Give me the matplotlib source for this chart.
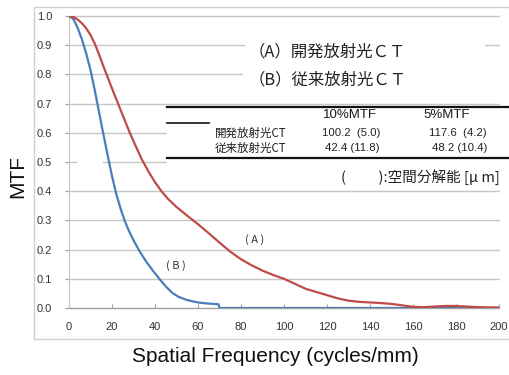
import matplotlib
matplotlib.use("Agg")
import matplotlib.pyplot as plt
from matplotlib.patches import Rectangle
from matplotlib.lines import Line2D

# ---- data ----
freq_a = [0, 2, 4, 6, 8, 10, 12, 14, 16, 18, 20, 22, 25, 28, 31, 34, 37, 40, 43, 46, 50,
          55, 60, 65, 70, 75, 80, 85, 90, 95, 100, 105, 110, 115, 120, 125, 130, 135,
          140, 145, 150, 155, 160, 165, 170, 175, 180, 185, 190, 195, 200]
mtf_a = [1.0, 0.997, 0.988, 0.975, 0.958, 0.935, 0.905, 0.868, 0.828, 0.79, 0.752,
         0.715, 0.66, 0.605, 0.555, 0.507, 0.467, 0.431, 0.4, 0.374, 0.346, 0.316,
         0.287, 0.256, 0.224, 0.193, 0.167, 0.146, 0.128, 0.113, 0.1, 0.083, 0.066,
         0.055, 0.044, 0.033, 0.025, 0.021, 0.019, 0.017, 0.014, 0.009, 0.004, 0.003,
         0.005, 0.007, 0.007, 0.005, 0.003, 0.002, 0.002]
freq_b = [0, 2, 4, 6, 8, 10, 12, 14, 16, 18, 20, 22, 24, 26, 28, 30, 33, 36, 39, 42,
          45, 48, 51, 55, 60, 65, 69.5, 70, 100, 150, 200]
mtf_b = [1.0, 0.99, 0.96, 0.92, 0.872, 0.815, 0.745, 0.67, 0.595, 0.522, 0.452, 0.39,
         0.34, 0.297, 0.262, 0.232, 0.192, 0.158, 0.128, 0.1, 0.074, 0.052, 0.038,
         0.027, 0.019, 0.015, 0.013, 0.0, 0.0, 0.0, 0.0]

x_ticks = [0, 20, 40, 60, 80, 100, 120, 140, 160, 180, 200]
y_ticks = [0.0, 0.1, 0.2, 0.3, 0.4, 0.5, 0.6, 0.7, 0.8, 0.9, 1.0]

legend_a = "（A）開発放射光ＣＴ"
legend_b = "（B）従来放射光ＣＴ"
table_cols = ["10%MTF", "5%MTF"]
table_rows = ["開発放射光CT", "従来放射光CT"]
table_10 = ["100.2  (5.0)", "42.4 (11.8)"]
table_5 = ["117.6  (4.2)", "48.2 (10.4)"]
note = "(　　 ):空間分解能 [μ m]"

W, H = 510, 375
fig = plt.figure(figsize=(W / 100, H / 100), dpi=100)
CJK = ["Noto Sans CJK JP", "DejaVu Sans"]
SANS = ["Liberation Sans", "Noto Sans CJK JP"]


def fx(px):
    return px / W


def fy(py):
    return 1 - py / H


# outer chart frame
fig.patches.append(Rectangle((fx(34), fy(339)), fx(600) - fx(34), fy(7) - fy(339),
                             transform=fig.transFigure, fill=False,
                             edgecolor="#d0d0d0", lw=1.0, zorder=0))

ax = fig.add_axes([fx(69), fy(308), fx(499) - fx(69), fy(16) - fy(308)])
ax.set_xlim(0, 200)
ax.set_ylim(0, 1.0)
ax.set_xticks(x_ticks)
ax.set_yticks(y_ticks)
ax.set_xticklabels([str(v) for v in x_ticks], family=SANS, fontsize=8, color="#333333")
ax.set_yticklabels([f"{v:.1f}" for v in y_ticks], family=SANS, fontsize=8, color="#333333")
ax.tick_params(axis="x", direction="in", length=3, pad=10, color="#a0a0a0")
ax.tick_params(axis="y", direction="out", length=3, pad=9, color="#a0a0a0")
for s in ["top", "right"]:
    ax.spines[s].set_visible(False)
ax.spines["left"].set_color("#c8c8c8")
ax.spines["bottom"].set_color("#a0a0a0")
ax.grid(axis="y", color="#c6c6c6", lw=1.0)
for gl in ax.get_ygridlines():
    gl.set_clip_on(False)
ax.set_axisbelow(True)

ax.set_zorder(1)
ax.patch.set_visible(False)

ax.plot(freq_b, mtf_b, color="#4a7ebb", lw=1.6, zorder=3)
ax.plot(freq_a, mtf_a, color="#be4b48", lw=1.6, zorder=4)

ax.text(86.5, 0.236, "( A )", family=CJK, fontsize=8, color="#333333",
        ha="center", va="center")
ax.text(49.8, 0.144, "( B )", family=CJK, fontsize=8, color="#333333",
        ha="center", va="center")

# overlay layer in figure coords
ov = fig.add_axes([0, 0, 1, 1], facecolor="none")
ov.set_xlim(0, W)
ov.set_ylim(H, 0)
ov.axis("off")
ov.set_zorder(2)

for (x0, y0, x1, y1) in [(245, 33, 485, 95), (243, 60, 500, 95), (167, 106, 512, 185),
                         (77, 140, 103, 172)]:
    ov.add_patch(Rectangle((x0, y0), x1 - x0, y1 - y0, facecolor="white",
                           edgecolor="none", zorder=0))

ov.text(249, 52, legend_a, family=CJK, fontsize=11.8, color="#222222", va="center", ha="left")
ov.text(249, 80, legend_b, family=CJK, fontsize=11.8, color="#222222", va="center", ha="left")

ov.add_line(Line2D([167, 512], [107, 107], color="#111111", lw=1.6))
ov.add_line(Line2D([167, 209], [123, 123], color="#111111", lw=1.2))
ov.add_line(Line2D([167, 512], [158, 158], color="#111111", lw=1.6))

ov.text(350, 115, table_cols[0], family=SANS, fontsize=9.5, color="#1a1a1a",
        ha="center", va="center")
ov.text(447, 115, table_cols[1], family=SANS, fontsize=9.5, color="#1a1a1a",
        ha="center", va="center")
row_y = [133, 148]
for i in range(2):
    ov.text(215, row_y[i], table_rows[i], family=CJK, fontsize=8.3, color="#222222",
            ha="left", va="center")
    ov.text(380, row_y[i], table_10[i], family=SANS, fontsize=8.2, color="#222222",
            ha="right", va="center")
    ov.text(487, row_y[i], table_5[i], family=SANS, fontsize=8.2, color="#222222",
            ha="right", va="center")

ov.text(500, 177, note, family=CJK, fontsize=10.5, color="#222222", ha="right", va="center")

fig.text(fx(18), fy(177), "MTF", family=SANS, fontsize=15, rotation=90,
         ha="center", va="center", color="#111111")
fig.text(fx(275), fy(357), "Spatial Frequency (cycles/mm)", family=SANS, fontsize=15,
         ha="center", va="center", color="#111111")

fig.savefig("out.png", dpi=100)
